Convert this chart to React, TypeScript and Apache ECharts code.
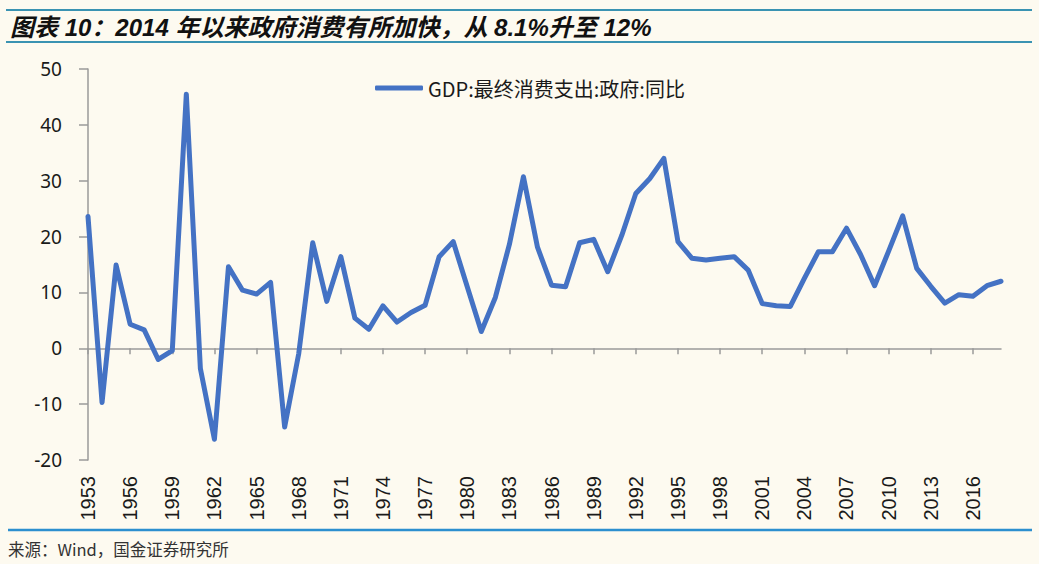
import React, { useEffect, useRef } from "react";
import * as echarts from "echarts";

const years: string[] = [];
for (let y = 1953; y <= 2018; y++) years.push(String(y));

const govConsumptionYoY: number[] = [
  23.6, -9.7, 14.9, 4.3, 3.3, -2.0, -0.4, 45.5, -3.6, -16.3,
  14.6, 10.4, 9.7, 11.8, -14.1, -1.0, 18.9, 8.4, 16.4, 5.4,
  3.4, 7.6, 4.7, 6.4, 7.7, 16.4, 19.1, 11.0, 3.0, 9.1,
  18.6, 30.7, 18.1, 11.3, 11.0, 18.9, 19.5, 13.7, 20.2, 27.7,
  30.4, 34.0, 19.1, 16.1, 15.8, 16.1, 16.4, 14.0, 8.0, 7.6,
  7.5, 12.5, 17.3, 17.3, 21.5, 16.8, 11.2, 17.4, 23.7, 14.3,
  11.1, 8.1, 9.6, 9.3, 11.2, 12.0,
];

const seriesName = "GDP:最终消费支出:政府:同比";
const titleText = "图表 10：2014 年以来政府消费有所加快，从 8.1%升至 12%";
const sourceText = "来源：Wind，国金证券研究所";
const yTicks = { min: -20, max: 50, interval: 10 };

export default function App() {
  const ref = useRef<HTMLDivElement>(null);
  useEffect(() => {
    if (!ref.current) return;
    const chart = echarts.init(ref.current, undefined, { renderer: "svg" });
    chart.setOption({
      animation: false,
      backgroundColor: "#FDFAF0",
      grid: { left: 88, right: 38, top: 69, bottom: 104 },
      legend: {
        data: [seriesName],
        left: 370,
        top: 73,
        icon: "roundRect",
        itemWidth: 48,
        itemHeight: 5,
        itemGap: 10,
        textStyle: {
          fontSize: 20,
          color: "#1a1a1a",
          fontFamily: "'Noto Sans CJK SC', 'Noto Sans', sans-serif",
        },
      },
      xAxis: [
        {
          type: "category",
          data: years,
          boundaryGap: false,
          position: "bottom",
          axisLine: { show: true, onZero: true, lineStyle: { color: "#9a9a9a", width: 1.5 } },
          axisTick: { show: true, interval: 2, length: 6, lineStyle: { color: "#9a9a9a", width: 1.5 } },
          axisLabel: { show: false },
          splitLine: { show: false },
        },
        {
          type: "category",
          data: years,
          boundaryGap: false,
          position: "bottom",
          axisLine: { show: false, onZero: false },
          axisTick: { show: false },
          axisLabel: {
            show: true,
            interval: 2,
            rotate: 90,
            margin: 16,
            fontSize: 20,
            color: "#1a1a1a",
            fontFamily: "'Liberation Sans', Arial, sans-serif",
          },
          splitLine: { show: false },
        },
      ],
      yAxis: {
        type: "value",
        min: yTicks.min,
        max: yTicks.max,
        interval: yTicks.interval,
        axisLine: { show: true, lineStyle: { color: "#9a9a9a", width: 1.5 } },
        axisTick: { show: true, length: 9, lineStyle: { color: "#9a9a9a", width: 1.5 } },
        axisLabel: {
          margin: 26,
          fontSize: 19,
          color: "#1a1a1a",
          fontFamily: "'Noto Sans', sans-serif",
        },
        splitLine: { show: false },
      },
      series: [
        {
          name: seriesName,
          type: "line",
          xAxisIndex: 0,
          data: govConsumptionYoY,
          symbol: "none",
          showSymbol: false,
          lineStyle: { color: "#4472C4", width: 5, join: "round", cap: "round" },
          itemStyle: { color: "#4472C4" },
        },
      ],
      graphic: [
        { type: "line", shape: { x1: 6, y1: 10, x2: 1032, y2: 10 }, style: { stroke: "#3A93B2", lineWidth: 2 } },
        { type: "line", shape: { x1: 6, y1: 42, x2: 1032, y2: 42 }, style: { stroke: "#3A93B2", lineWidth: 2 } },
        {
          type: "text",
          x: 10,
          y: 27,
          style: {
            text: titleText,
            fontSize: 24,
            fontWeight: "bold",
            fontStyle: "italic",
            fill: "#111",
            fontFamily: "'Liberation Sans', 'Noto Sans CJK SC', sans-serif",
            verticalAlign: "middle",
          },
        },
        { type: "line", shape: { x1: 8, y1: 530, x2: 1032, y2: 530 }, style: { stroke: "#2C8FCF", lineWidth: 2.5 } },
        {
          type: "text",
          x: 8,
          y: 549,
          style: {
            text: sourceText,
            fontSize: 16.5,
            fill: "#333",
            fontFamily: "'Noto Sans CJK SC', sans-serif",
            verticalAlign: "middle",
          },
        },
      ],
    });
    return () => chart.dispose();
  }, []);
  return (
    <div
      ref={ref}
      style={{ position: "fixed", left: 0, top: 0, width: 1039, height: 564 }}
    />
  );
}
